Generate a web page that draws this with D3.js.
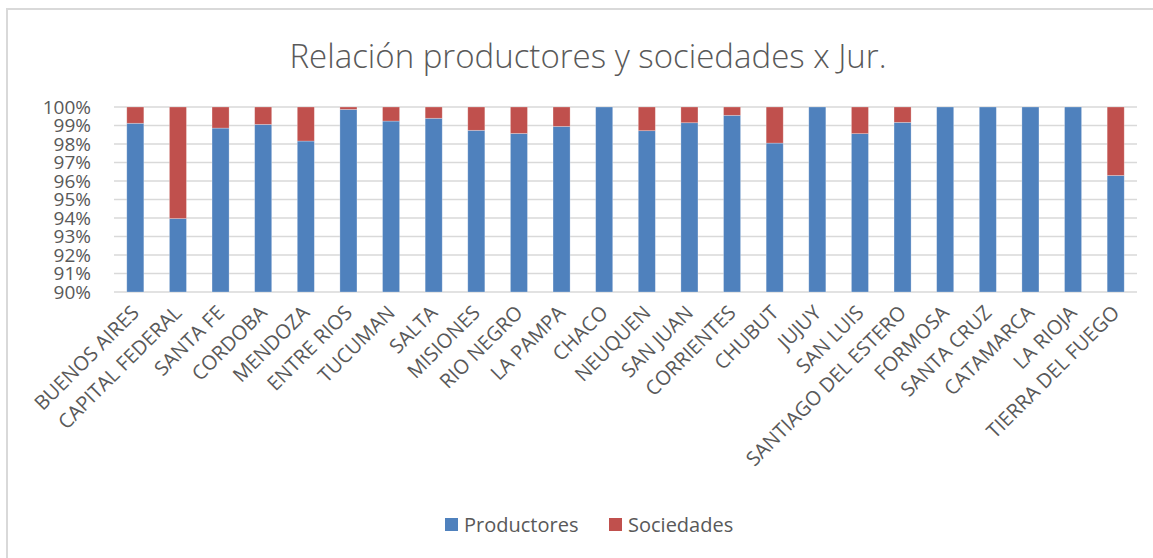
<!DOCTYPE html>
<html>
<head>
<meta charset="utf-8">
<script src="https://cdn.jsdelivr.net/npm/d3@7"></script>
<style>
  html, body { margin: 0; padding: 0; background: #fff; }
  svg { display: block; font-family: "Open Sans", "Noto Sans", sans-serif; }
</style>
</head>
<body>
<svg id="chart" width="1153" height="558"></svg>
<script>
/* ── Data ─────────────────────────────────────────────── */
const jurisdicciones = [
  'BUENOS AIRES', 'CAPITAL FEDERAL', 'SANTA FE', 'CORDOBA', 'MENDOZA',
  'ENTRE RIOS', 'TUCUMAN', 'SALTA', 'MISIONES', 'RIO NEGRO', 'LA PAMPA',
  'CHACO', 'NEUQUEN', 'SAN JUAN', 'CORRIENTES', 'CHUBUT', 'JUJUY',
  'SAN LUIS', 'SANTIAGO DEL ESTERO', 'FORMOSA', 'SANTA CRUZ', 'CATAMARCA',
  'LA RIOJA', 'TIERRA DEL FUEGO'
];
// share of productores (%)
const productores = [
  99.12, 93.97, 98.86, 99.06, 98.16, 99.87, 99.24, 99.39, 98.74, 98.57, 98.95,
  100, 98.72, 99.15, 99.55, 98.05, 100, 98.56, 99.17, 100, 100, 100, 100, 96.30
];
// share of sociedades (%)
const sociedades = productores.map(p => +(100 - p).toFixed(2));
const seriesNames = ['Productores', 'Sociedades'];
const seriesColors = ['#4F81BD', '#C0504D'];
const yTicks = [90, 91, 92, 93, 94, 95, 96, 97, 98, 99, 100];

/* ── Layout ───────────────────────────────────────────── */
const svg = d3.select('#chart');
const plot = { left: 114, right: 1137, top: 107, bottom: 292 };

// chart frame (only top/left edges visible in the picture)
svg.append('path')
  .attr('d', 'M7,558 V9 H1153')
  .attr('fill', 'none')
  .attr('stroke', '#d9d9d9')
  .attr('stroke-width', 2);

svg.append('text')
  .attr('x', 588).attr('y', 68)
  .attr('text-anchor', 'middle')
  .style('font-size', '33px')
  .style('font-weight', 300)
  .style('fill', '#595959')
  .text('Relación productores y sociedades x Jur.');

const x = d3.scaleBand()
  .domain(jurisdicciones)
  .range([plot.left, plot.right])
  .paddingInner(0.6)
  .paddingOuter(0.3);

const y = d3.scaleLinear()
  .domain([90, 100])
  .range([plot.bottom, plot.top]);

/* ── Gridlines ────────────────────────────────────────── */
svg.append('g')
  .selectAll('line')
  .data(yTicks)
  .join('line')
  .attr('x1', plot.left).attr('x2', plot.right)
  .attr('y1', d => y(d)).attr('y2', d => y(d))
  .attr('stroke', '#d9d9d9')
  .attr('stroke-width', 1.5);

/* ── Stacked bars ─────────────────────────────────────── */
const rows = jurisdicciones.map((j, i) => ({
  j, Productores: productores[i], Sociedades: sociedades[i]
}));
const stack = d3.stack().keys(seriesNames)(rows);

svg.append('g')
  .selectAll('g')
  .data(stack)
  .join('g')
  .attr('fill', (d, i) => seriesColors[i])
  .selectAll('rect')
  .data(d => d)
  .join('rect')
  .attr('x', d => x(d.data.j))
  .attr('width', x.bandwidth())
  .attr('y', d => y(Math.min(d[1], 100)))
  .attr('height', d => Math.max(0, y(Math.max(d[0], 90)) - y(Math.min(d[1], 100))))
  .attr('stroke', 'rgba(255,255,255,0.35)')
  .attr('stroke-width', 0.75);

/* ── Axes ─────────────────────────────────────────────── */
const yAxis = svg.append('g')
  .attr('transform', `translate(${plot.left},0)`)
  .call(d3.axisLeft(y).tickValues(yTicks).tickSize(0).tickPadding(23)
    .tickFormat(d => d + '%'));
yAxis.select('.domain').remove();
yAxis.selectAll('text')
  .style('font-size', '19px')
  .style('fill', '#595959')
  .style('font-family', '"Open Sans", sans-serif');

const xAxis = svg.append('g')
  .attr('transform', `translate(0,${plot.bottom})`)
  .call(d3.axisBottom(x).tickSize(0));
xAxis.select('.domain').remove();
xAxis.selectAll('text')
  .attr('text-anchor', 'end')
  .attr('dy', '0')
  .attr('transform', 'translate(5,22) rotate(-45)')
  .attr('y', 0)
  .style('font-size', '20px')
  .style('fill', '#595959')
  .style('font-family', '"Open Sans", sans-serif');

/* ── Legend ───────────────────────────────────────────── */
const legendPos = [445, 609];
const legend = svg.append('g')
  .selectAll('g')
  .data(seriesNames)
  .join('g')
  .attr('transform', (d, i) => `translate(${legendPos[i]},518)`);
legend.append('rect')
  .attr('width', 13).attr('height', 13)
  .attr('fill', (d, i) => seriesColors[i]);
legend.append('text')
  .attr('x', 19).attr('y', 14)
  .style('font-size', '20px')
  .style('fill', '#595959')
  .text(d => d);
</script>
</body>
</html>
